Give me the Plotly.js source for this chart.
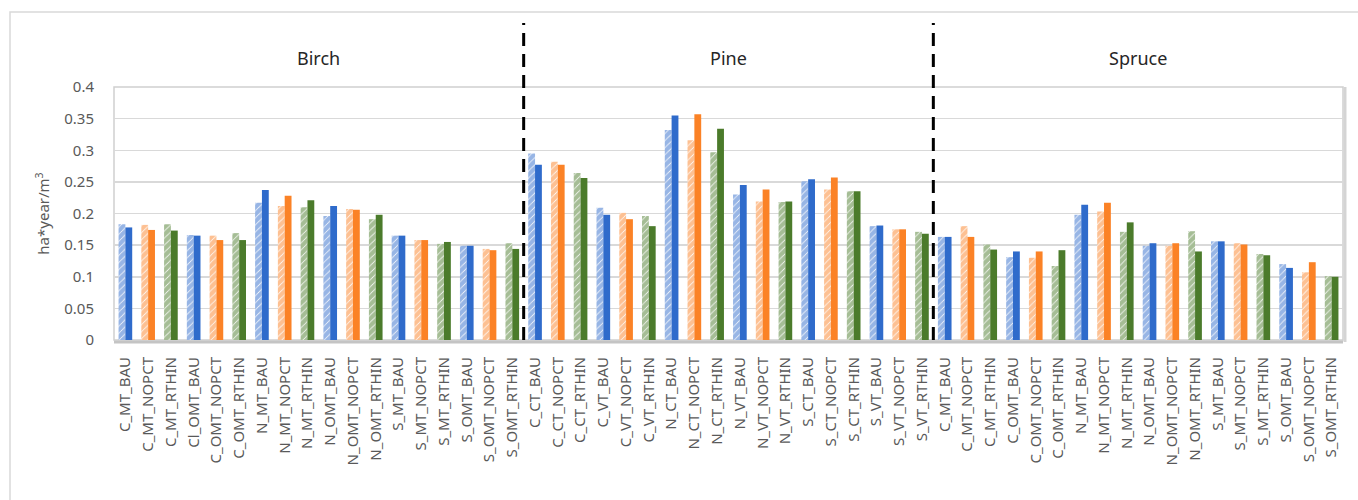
<!DOCTYPE html>
<html>
<head>
<meta charset="utf-8">
<script src="https://cdn.plot.ly/plotly-3.0.1.min.js"></script>
<style>
  html, body { margin: 0; padding: 0; background: #ffffff; }
  #chart { width: 1358px; height: 500px; }
</style>
</head>
<body>
<div id="chart"></div>
<script>
// ---- data ----
const groupNames = ['Birch', 'Pine', 'Spruce'];

const birchCats = ['C_MT_BAU', 'C_MT_NOPCT', 'C_MT_RTHIN', 'Cl_OMT_BAU', 'C_OMT_NOPCT', 'C_OMT_RTHIN',
  'N_MT_BAU', 'N_MT_NOPCT', 'N_MT_RTHIN', 'N_OMT_BAU', 'N_OMT_NOPCT', 'N_OMT_RTHIN',
  'S_MT_BAU', 'S_MT_NOPCT', 'S_MT_RTHIN', 'S_OMT_BAU', 'S_OMT_NOPCT', 'S_OMT_RTHIN'];
const pineCats = ['C_CT_BAU', 'C_CT_NOPCT', 'C_CT_RTHIN', 'C_VT_BAU', 'C_VT_NOPCT', 'C_VT_RTHIN',
  'N_CT_BAU', 'N_CT_NOPCT', 'N_CT_RTHIN', 'N_VT_BAU', 'N_VT_NOPCT', 'N_VT_RTHIN',
  'S_CT_BAU', 'S_CT_NOPCT', 'S_CT_RTHIN', 'S_VT_BAU', 'S_VT_NOPCT', 'S_VT_RTHIN'];
const spruceCats = ['C_MT_BAU', 'C_MT_NOPCT', 'C_MT_RTHIN', 'C_OMT_BAU', 'C_OMT_NOPCT', 'C_OMT_RTHIN',
  'N_MT_BAU', 'N_MT_NOPCT', 'N_MT_RTHIN', 'N_OMT_BAU', 'N_OMT_NOPCT', 'N_OMT_RTHIN',
  'S_MT_BAU', 'S_MT_NOPCT', 'S_MT_RTHIN', 'S_OMT_BAU', 'S_OMT_NOPCT', 'S_OMT_RTHIN'];

// hatched (first) bar of each pair
const birchHatched = [0.183, 0.182, 0.183, 0.166, 0.165, 0.169, 0.217, 0.212, 0.210, 0.196, 0.207, 0.191,
  0.165, 0.158, 0.152, 0.149, 0.144, 0.153];
const pineHatched = [0.295, 0.282, 0.264, 0.209, 0.201, 0.196, 0.332, 0.316, 0.297, 0.230, 0.219, 0.218,
  0.251, 0.238, 0.235, 0.180, 0.175, 0.171];
const spruceHatched = [0.163, 0.180, 0.151, 0.131, 0.130, 0.117, 0.198, 0.203, 0.171, 0.149, 0.149, 0.172,
  0.156, 0.153, 0.136, 0.120, 0.107, 0.101];

// solid (second) bar of each pair
const birchSolid = [0.178, 0.174, 0.173, 0.165, 0.158, 0.158, 0.237, 0.228, 0.221, 0.212, 0.206, 0.198,
  0.165, 0.158, 0.155, 0.149, 0.142, 0.144];
const pineSolid = [0.277, 0.277, 0.256, 0.198, 0.191, 0.180, 0.355, 0.357, 0.334, 0.245, 0.238, 0.219,
  0.254, 0.257, 0.235, 0.181, 0.175, 0.168];
const spruceSolid = [0.163, 0.163, 0.143, 0.140, 0.140, 0.142, 0.214, 0.217, 0.186, 0.153, 0.153, 0.140,
  0.156, 0.151, 0.134, 0.114, 0.123, 0.100];

const palette = ['#2f6bcb', '#fb8226', '#4b7b2b'];

// ---- build ----
const groups = [birchCats, pineCats, spruceCats];
const labels = [].concat(birchCats, pineCats, spruceCats);
const hatched = [].concat(birchHatched, pineHatched, spruceHatched);
const solid = [].concat(birchSolid, pineSolid, spruceSolid);
const xs = labels.map((_, i) => i);
const colors = labels.map((_, i) => palette[i % 3]);

const FONT = 'Noto Sans, Open Sans, sans-serif';

const traces = [
  {
    type: 'bar', x: xs, y: hatched, name: 'hatched', showlegend: false,
    marker: {
      color: 'white',
      line: { width: 0 },
      pattern: { shape: '/', fgcolor: colors, bgcolor: 'white', size: 5, solidity: 0.85, fillmode: 'overlay' }
    },
    hoverinfo: 'y'
  },
  {
    type: 'bar', x: xs, y: solid, name: 'solid', showlegend: false,
    marker: { color: colors, line: { width: 0 } },
    hoverinfo: 'y'
  }
];

// plot geometry in pixels
const W = 1358, H = 500;
const mL = 114, mR = 15, mT = 87, mB = 160;
const pw = W - mL - mR, ph = H - mT - mB;
const px2x = p => (p - mL) / pw;
const py2y = p => (H - mB - p) / ph;

const shapes = [];
const annotations = [];
let start = 0;
groups.forEach((g, gi) => {
  const end = start + g.length - 1;
  annotations.push({
    xref: 'x', yref: 'paper', x: (start + end) / 2, y: py2y(58),
    text: groupNames[gi], showarrow: false, xanchor: 'center', yanchor: 'middle',
    font: { family: FONT, size: 18, color: '#262626' }
  });
  if (gi < groups.length - 1) {
    shapes.push({
      type: 'line', xref: 'x', yref: 'paper', x0: end + 0.5, x1: end + 0.5, y0: 0, y1: py2y(23),
      line: { color: '#000000', width: 3, dash: '13px,8px' }, layer: 'above'
    });
  }
  start = end + 1;
});

// outer frame (top and left edges)
shapes.push({
  type: 'rect', xref: 'paper', yref: 'paper', x0: px2x(10), x1: px2x(1375), y0: py2y(12), y1: py2y(520),
  line: { color: '#d9d9d9', width: 1.5 }, fillcolor: 'rgba(0,0,0,0)', layer: 'below'
});
// plot area frame
shapes.push({
  type: 'rect', xref: 'paper', yref: 'paper', x0: 0, x1: 1, y0: 0, y1: 1,
  line: { color: '#d0d0d0', width: 1.5 }, fillcolor: 'rgba(0,0,0,0)', layer: 'below'
});
// soft shadow along bottom and right of plot area
shapes.push({
  type: 'line', xref: 'paper', yref: 'paper', x0: 0, x1: 1, y0: py2y(H - mB + 2), y1: py2y(H - mB + 2),
  line: { color: '#c4c4c4', width: 3 }, layer: 'below'
});
shapes.push({
  type: 'line', xref: 'paper', yref: 'paper', x0: px2x(W - mR + 2), x1: px2x(W - mR + 2), y0: py2y(H - mB + 2), y1: 1,
  line: { color: '#d4d4d4', width: 3 }, layer: 'below'
});

const layout = {
  width: W, height: H,
  margin: { l: mL, r: mR, t: mT, b: mB, pad: 0 },
  paper_bgcolor: '#ffffff', plot_bgcolor: '#ffffff',
  barmode: 'group', bargap: 0.4, bargroupgap: 0,
  font: { family: FONT, color: '#595959' },
  xaxis: {
    tickmode: 'array', tickvals: xs, ticktext: labels, tickangle: -90,
    range: [-0.5, labels.length - 0.5], showgrid: false, zeroline: false,
    ticks: 'outside', ticklen: 10, tickcolor: 'rgba(0,0,0,0)',
    tickfont: { family: FONT, size: 15, color: '#595959' },
    showline: false, automargin: false, fixedrange: true
  },
  yaxis: {
    range: [0, 0.4], dtick: 0.05, tick0: 0,
    showgrid: true, gridcolor: '#d9d9d9', gridwidth: 1.5, zeroline: false,
    ticks: 'outside', ticklen: 16, tickcolor: 'rgba(0,0,0,0)',
    tickfont: { family: FONT, size: 15, color: '#595959' },
    title: { text: 'ha*year/m<sup>3</sup>', font: { family: FONT, size: 15, color: '#595959' }, standoff: 10 },
    showline: false, automargin: false, fixedrange: true
  },
  shapes: shapes,
  annotations: annotations
};

Plotly.newPlot('chart', traces, layout, { displayModeBar: false, staticPlot: true });
</script>
</body>
</html>
